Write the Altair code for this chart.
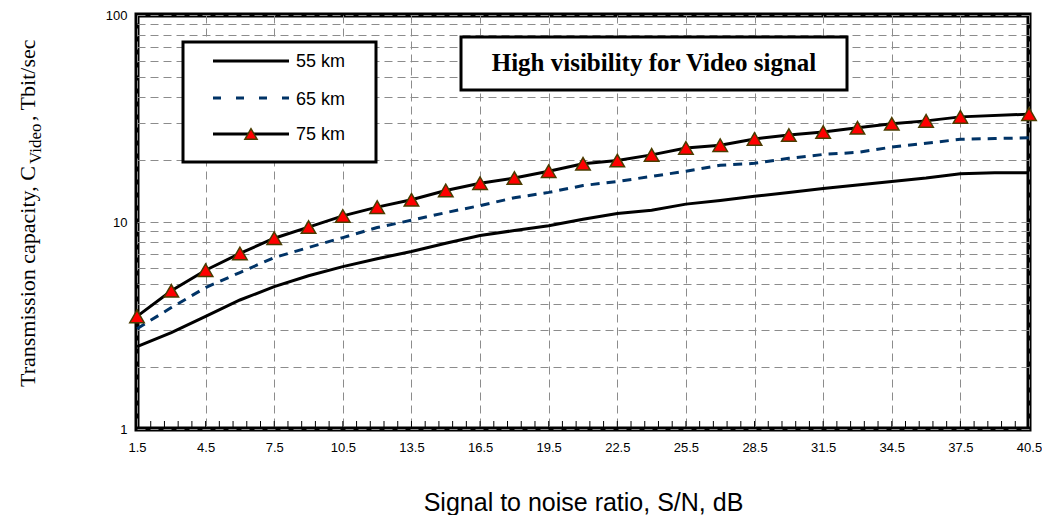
import altair as alt
import pandas as pd

# ---------------- data ----------------
snr = [1.5, 3.0, 4.5, 6.0, 7.5, 9.0, 10.5, 12.0, 13.5, 15.0, 16.5, 18.0, 19.5,
       21.0, 22.5, 24.0, 25.5, 27.0, 28.5, 30.0, 31.5, 33.0, 34.5, 36.0, 37.5,
       39.0, 40.5]
cap_55 = [2.50, 2.92, 3.50, 4.20, 4.87, 5.50, 6.09, 6.65, 7.20, 7.90, 8.60,
          9.10, 9.60, 10.3, 11.0, 11.4, 12.2, 12.7, 13.3, 13.9, 14.5, 15.1,
          15.7, 16.3, 17.1, 17.3, 17.3]
cap_65 = [3.05, 3.86, 4.82, 5.70, 6.73, 7.53, 8.41, 9.40, 10.2, 11.1, 12.0,
          13.1, 13.9, 15.0, 15.7, 16.6, 17.6, 18.8, 19.2, 20.3, 21.2, 21.7,
          23.0, 24.0, 25.1, 25.3, 25.5]
cap_75 = [3.50, 4.65, 5.85, 7.05, 8.35, 9.45, 10.7, 11.8, 12.8, 14.2, 15.4,
          16.3, 17.6, 19.1, 19.8, 21.1, 22.8, 23.5, 25.2, 26.3, 27.2, 28.5,
          29.8, 30.8, 32.2, None, 33.2]
series_names = ["55 km", "65 km", "75 km"]

x_ticks = [1.5, 4.5, 7.5, 10.5, 13.5, 16.5, 19.5, 22.5, 25.5, 28.5, 31.5,
           34.5, 37.5, 40.5]
x_minor = [round(1.5 + 0.6 * k, 2) for k in range(1, 65)]
y_grid = [1, 2, 3, 4, 5, 6, 7, 8, 9, 10, 20, 30, 40, 50, 60, 70, 80, 90, 100]

title_text = "High visibility for Video signal"
x_title = "Signal to noise ratio, S/N, dB"
y_title_parts = ["Transmission capacity, C", "Video", ", Tbit/sec"]

# ---------------- tables ----------------
df = pd.DataFrame({
    "snr": snr * 3,
    "cap": cap_55 + cap_65 + cap_75,
    "series": [series_names[0]] * len(snr) + [series_names[1]] * len(snr)
              + [series_names[2]] * len(snr),
}).dropna()
minor_df = pd.DataFrame({"snr": x_minor})
one = pd.DataFrame({"k": [0]})

GRID = dict(grid=True, gridDash=[8, 5], gridColor="#8c8c8c", gridWidth=1,
            ticks=False, tickSize=0, domain=False, labelColor="black",
            labelFont="Liberation Sans", labelFontSize=13)

x_enc = alt.X("snr:Q",
              scale=alt.Scale(domain=[1.5, 40.5], nice=False, zero=False),
              axis=alt.Axis(values=x_ticks, format=".1f", title=x_title,
                            labelPadding=12, labelFlush=False, labelOverlap=False,
                            titleFont="Liberation Sans", titleFontSize=25,
                            titleFontWeight="normal", titleColor="black",
                            titlePadding=36, **GRID))
y_enc = alt.Y("cap:Q",
              scale=alt.Scale(type="log", domain=[1, 100], nice=False),
              axis=alt.Axis(values=y_grid, format="d", title=None,
                            labelExpr="indexof([1, 10, 100], datum.value) >= 0 ? datum.label : ''",
                            labelPadding=10, labelOverlap=False, **GRID))

base = alt.Chart(df)
line55 = base.transform_filter(alt.datum.series == "55 km").mark_line(
    color="black", strokeWidth=3).encode(x=x_enc, y=y_enc)
line65 = base.transform_filter(alt.datum.series == "65 km").mark_line(
    color="#003366", strokeWidth=3, strokeDash=[9, 7]).encode(x="snr:Q", y="cap:Q")
line75 = base.transform_filter(alt.datum.series == "75 km").mark_line(
    color="black", strokeWidth=3).encode(x="snr:Q", y="cap:Q")
pts75 = base.transform_filter(alt.datum.series == "75 km").mark_point(
    shape="triangle-up", filled=True, fill="#ff0000", stroke="#4a3c00",
    strokeWidth=1.5, size=210, opacity=1).encode(x="snr:Q", y="cap:Q")

minor = alt.Chart(minor_df).mark_rule(color="black", strokeWidth=1).encode(
    x="snr:Q", y=alt.value(406), y2=alt.value(414))


def box(x1, x2, y1, y2):
    return alt.Chart(one).mark_rect(fill="white", stroke="black", strokeWidth=3).encode(
        x=alt.value(x1), x2=alt.value(x2), y=alt.value(y1), y2=alt.value(y2))


def text(t, x, y, size, font, weight="normal", angle=0, align="left",
         baseline="alphabetic"):
    return alt.Chart(one).mark_text(
        text=t, font=font, fontSize=size, fontWeight=weight, angle=angle,
        align=align, baseline=baseline, color="black").encode(
        x=alt.value(x), y=alt.value(y))


# legend
leg_box = box(46, 239, 27, 147)
leg_l1 = alt.Chart(one).mark_rule(color="black", strokeWidth=3).encode(
    x=alt.value(76), x2=alt.value(152), y=alt.value(46))
leg_l2 = alt.Chart(one).mark_rule(color="#003366", strokeWidth=3, strokeDash=[8, 15]).encode(
    x=alt.value(76), x2=alt.value(152), y=alt.value(83))
leg_l3 = alt.Chart(one).mark_rule(color="black", strokeWidth=3).encode(
    x=alt.value(76), x2=alt.value(152), y=alt.value(119))
leg_pt = alt.Chart(one).mark_point(
    shape="triangle-up", filled=True, fill="#ff0000", stroke="#4a3c00",
    strokeWidth=1.5, size=150, opacity=1).encode(x=alt.value(114), y=alt.value(119))
leg_t1 = text(series_names[0], 159, 52, 18, "Liberation Sans")
leg_t2 = text(series_names[1], 159, 90, 18, "Liberation Sans")
leg_t3 = text(series_names[2], 159, 125, 18, "Liberation Sans")

# title box
t_box = box(324, 710, 22, 75)
t_txt = text(title_text, 517, 56, 25, "Liberation Serif", weight="bold", align="center")

# y-axis title with subscript
y_t1 = text(y_title_parts[0], -102, 372, 22, "Liberation Serif", angle=270)
y_t2 = text(y_title_parts[1], -96, 149, 17, "Liberation Serif", angle=270)
y_t3 = text(y_title_parts[2], -102, 106, 22, "Liberation Serif", angle=270)

chart = alt.layer(
    line55, line65, line75, pts75, minor,
    leg_box, leg_l1, leg_l2, leg_l3, leg_pt, leg_t1, leg_t2, leg_t3,
    t_box, t_txt, y_t1, y_t2, y_t3,
).properties(
    width=892, height=414,
    autosize=alt.AutoSizeParams(type="none"),
    padding={"left": 129, "top": 7, "right": 13, "bottom": 86},
    background="white",
).configure_view(stroke="black", strokeWidth=5)

chart.save("out.html", embed_options={"renderer": "svg", "actions": False})
